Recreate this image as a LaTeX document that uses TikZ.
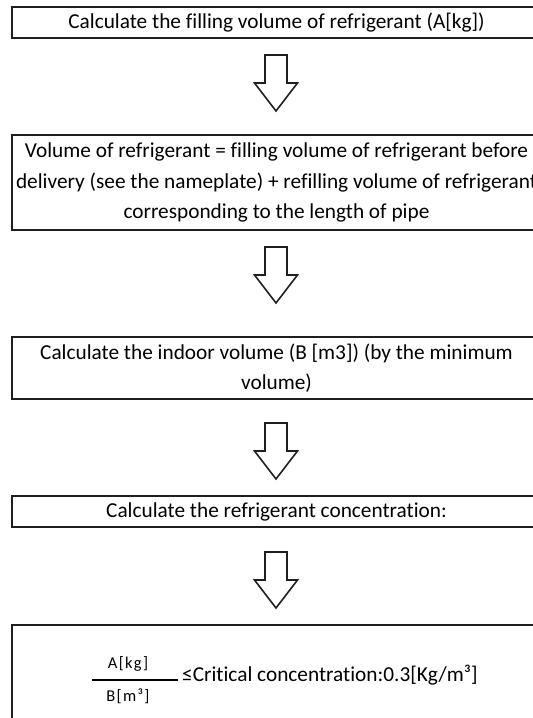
\documentclass[tikz,border=0pt]{standalone}
\usepackage{fontspec}
\setmainfont{Carlito}[Ligatures={NoCommon,NoContextual}]
\begin{document}
\begin{tikzpicture}[x=1pt,y=-1pt,
  boxline/.style={draw=black!88, line width=1.8pt},
  box/.style={boxline, minimum width=529pt, inner sep=0pt, align=center,
    font=\fontsize{21.3}{30.5}\selectfont},
  arrowline/.style={draw=black!88, line width=1.6pt, line join=miter},
  downarrow/.pic={\draw[arrowline] (-11,-28) -- (-11,0) -- (-21.5,0) -- (0,28) -- (21.5,0) -- (11,0) -- (11,-28) -- cycle;},
  fractext/.style={inner sep=0pt, font=\fontsize{16.5}{19}\selectfont\addfontfeatures{LetterSpace=8}},
  maintext/.style={inner sep=0pt, font=\fontsize{21.3}{25}\selectfont}
]
\clip (0,0) rectangle (533,718);
\node[box, minimum height=31pt] (b1) at (276.5,22.5) {Calculate the filling volume of refrigerant (A[kg])};
\pic at (276,83) {downarrow};
\node[box, minimum height=95pt] (b2) at (276.5,182.5) {Volume of refrigerant = filling volume of refrigerant before\\delivery (see the nameplate) + refilling volume of refrigerant\\corresponding to the length of pipe};
\pic at (276,275) {downarrow};
\node[box, minimum height=62pt] (b3) at (276.5,368) {Calculate the indoor volume (B [m3]) (by the minimum\\volume)};
\pic at (276,451) {downarrow};
\node[box, minimum height=31pt] (b4) at (276.5,511.5) {Calculate the refrigerant concentration:};
\pic at (276,580) {downarrow};
\draw[boxline] (12,740) -- (12,625) -- (541,625) -- (541,740);
\node[fractext] (num) at (128,664) {A[kg]};
\node[fractext] (den) at (128,696) {B[m³]};
\coordinate (fl) at (92,680);
\coordinate (fr) at (178,680);
\draw[line width=1.6pt] (fl) -- (fr);
\node[maintext, anchor=west] (crit) at (182,675) {≤Critical concentration:0.3[Kg/m³]};
\end{tikzpicture}
\end{document}
